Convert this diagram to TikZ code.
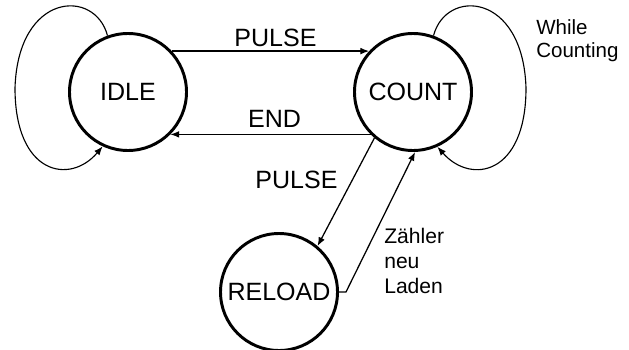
\documentclass[tikz,border=0pt]{standalone}
\usepackage{fontspec}
\setmainfont{Liberation Sans}
\usetikzlibrary{arrows.meta}

\begin{document}
\begin{tikzpicture}[x=0.025cm, y=-0.025cm,
    state/.style={draw, circle, line width=2.1pt, minimum size=117*0.025cm, inner sep=0pt,
        font=\fontsize{17.8}{20}\selectfont},
    trans/.style={line width=0.9pt, -{Latex[length=2.2mm,width=1.7mm]}},
    loopline/.style={line width=0.8pt, -{Latex[length=2.2mm,width=1.7mm]}},
    biglbl/.style={inner sep=0pt, font=\fontsize{17.8}{20}\selectfont},
    smalllbl/.style={inner sep=0pt, align=left, anchor=north west}]
\useasboundingbox (0,0) rectangle (629,349);

% States
\node[state] (idle) at (128,92) {IDLE};
\node[state] (count) at (413,92) {COUNT};
\node[state] (reload) at (279,292) {RELOAD};

% Transitions between states
\draw[trans] (idle.43) -- (count.137);
\draw[trans] (count.-135) -- (idle.-45);
\draw[trans] (count.-130) -- (reload.50);
\draw[trans] (reload.east) -- ++(7,0) -- (count.-88);

% Self loops
\coordinate (idleLoop) at (15,88);
\coordinate (countLoop) at (526,88);
\draw[loopline] (idle.110) .. controls (95,-12) and (18,-8) .. (idleLoop)
    .. controls (15,175) and (70,185) .. (idle.245);
\draw[loopline] (count.70) .. controls (446,-12) and (523,-8) .. (countLoop)
    .. controls (526,175) and (471,185) .. (count.-66);

% Labels
\node[biglbl] (pulseTop) at (275.5,37.5) {PULSE};
\node[biglbl] (endLbl) at (274.5,118.5) {END};
\node[biglbl] (pulseDown) at (296.5,180) {PULSE};
\node[smalllbl, font=\fontsize{14.6}{16.4}\selectfont] (whileLbl) at (536,19) {While\\Counting};
\node[smalllbl, font=\fontsize{15}{17.8}\selectfont] (reloadLbl) at (384,227.5) {Zähler\\neu\\Laden};
\end{tikzpicture}
\end{document}
